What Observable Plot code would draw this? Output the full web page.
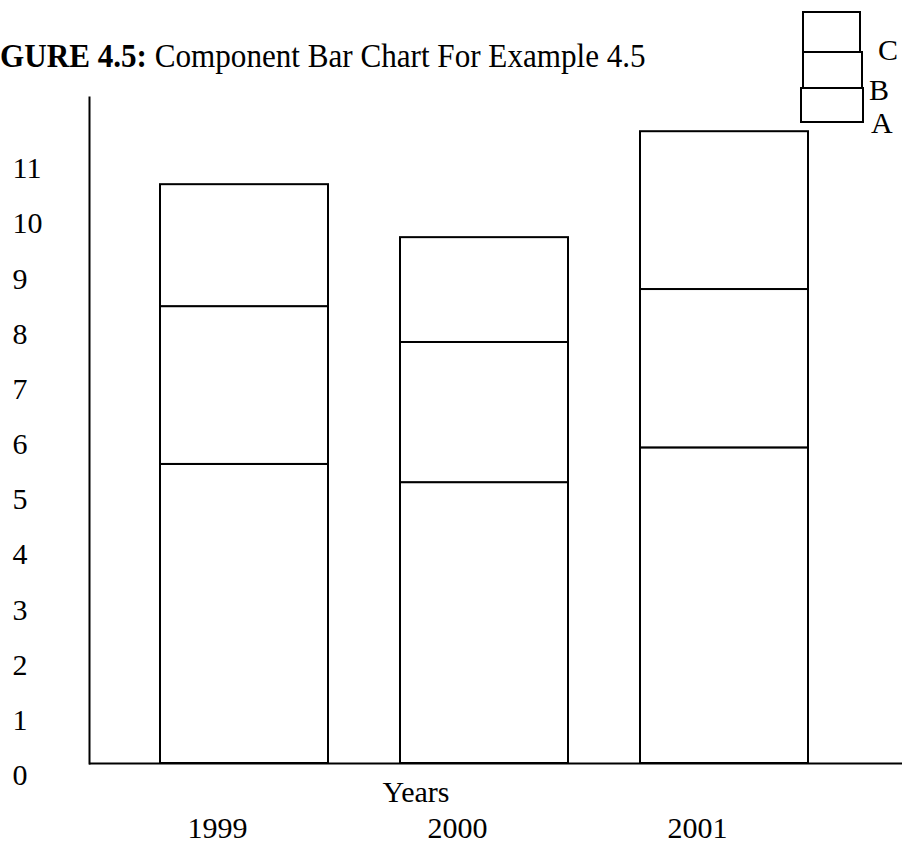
<!DOCTYPE html>
<html>
<head>
<meta charset="utf-8">
<script src="https://cdn.jsdelivr.net/npm/d3@7"></script>
<script src="https://cdn.jsdelivr.net/npm/@observablehq/plot@0.6"></script>
<style>
  html, body { margin: 0; padding: 0; background: #fff; }
  #wrap { position: relative; width: 902px; height: 843px; overflow: hidden; font-family: "Liberation Serif", "Times New Roman", serif; color: #000; }
  #title { position: absolute; left: 0; top: 40px; font-size: 33px; line-height: 33px; white-space: nowrap; transform: scaleX(0.943); transform-origin: 0 0; }
  #chart { position: absolute; left: 0; top: 0; }
  .lg-box { position: absolute; border: 2px solid #000; box-sizing: border-box; background: #fff; }
  .lg-lab { position: absolute; font-size: 30px; line-height: 30px; }
</style>
</head>
<body>
<div id="wrap">
  <div id="chart"></div>
  <div id="title"><b>GURE 4.5:</b> Component Bar Chart For Example 4.5</div>
</div>
<script>
// Data
const years = ["1999", "2000", "2001"];
const components = ["A", "B", "C"];
const valuesA = [5.42, 5.09, 5.72];
const valuesB = [2.86, 2.54, 2.87];
const valuesC = [2.21, 1.90, 2.86];
const yTicks = [0, 1, 2, 3, 4, 5, 6, 7, 8, 9, 10, 11];
const xLabel = "Years";
const legendKeys = ["C", "B", "A"];

const series = {A: valuesA, B: valuesB, C: valuesC};
const rows = [];
components.forEach(c => years.forEach((y, i) => rows.push({year: y, component: c, value: series[c][i]})));

const font = "Liberation Serif, Times New Roman, serif";

const chart = Plot.plot({
  width: 902,
  height: 843,
  marginTop: 97,
  marginBottom: 80,
  marginLeft: 89,
  marginRight: 0,
  style: {fontFamily: font, fontSize: "30px", background: "transparent", overflow: "visible"},
  x: {domain: years, axis: null, paddingInner: 0.3, paddingOuter: 0.341, align: 0.433},
  y: {domain: [0, 12.07], axis: null},
  marks: [
    Plot.barY(rows, {x: "year", y: "value", z: "component", fill: "white", stroke: "black", strokeWidth: 2}),
    Plot.ruleY([0], {stroke: "black", strokeWidth: 2}),
    Plot.frame({anchor: "left", stroke: "black", strokeWidth: 2}),
    Plot.text(yTicks, {y: d => d, text: d => String(d), frameAnchor: "left", textAnchor: "start", dx: -77, dy: 12, fill: "black", fontSize: 30}),
    Plot.text(years, {x: d => d, text: d => d, frameAnchor: "bottom", dx: -27, dy: 74, fill: "black", fontSize: 30}),
    Plot.text([xLabel], {text: d => d, frameAnchor: "bottom", dx: -80, dy: 38, fill: "black", fontSize: 30})
  ]
});
document.getElementById("chart").appendChild(chart);

// Legend (stacked boxes with labels)
const wrap = document.getElementById("wrap");
const boxGeom = {C: [802, 11, 59, 42], B: [802, 51, 61, 38], A: [800, 87, 64, 36]};
const labGeom = {C: [878, 35], B: [869, 75], A: [871, 108]};
legendKeys.forEach(k => {
  const b = document.createElement("div");
  b.className = "lg-box";
  const [x, y, w, h] = boxGeom[k];
  Object.assign(b.style, {left: x + "px", top: y + "px", width: w + "px", height: h + "px"});
  wrap.appendChild(b);
  const l = document.createElement("div");
  l.className = "lg-lab";
  l.textContent = k;
  const [lx, ly] = labGeom[k];
  Object.assign(l.style, {left: lx + "px", top: ly + "px"});
  wrap.appendChild(l);
});
</script>
</body>
</html>
